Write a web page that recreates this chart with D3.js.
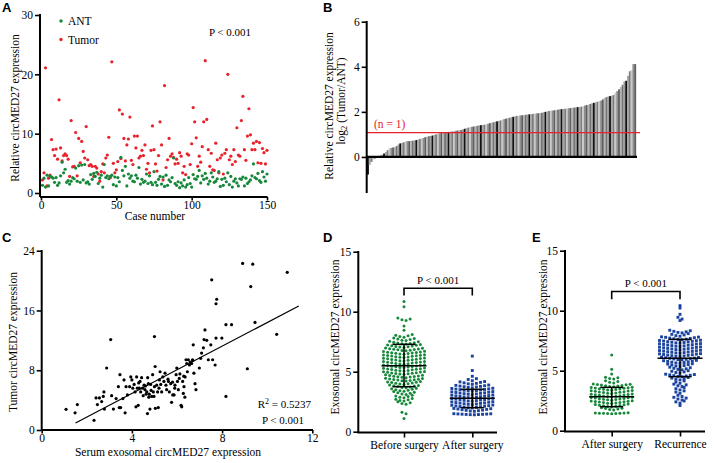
<!DOCTYPE html>
<html><head><meta charset="utf-8">
<script src="https://cdn.jsdelivr.net/npm/d3@7"></script>
<style>body{margin:0;background:#fff}svg{display:block}</style>
</head><body><svg id="c" width="727" height="463"></svg>
<script>
// ---------- Panel A ----------
const antValues = [
1.3,2.5,1.0,3.0,1.2,2.8,2.7,2.5,1.8,2.6,
1.3,1.7,2.9,5.2,3.4,4.0,1.8,2.1,1.5,2.0,
2.6,2.4,4.2,2.0,4.6,1.8,4.7,2.2,4.8,1.7,
1.9,1.5,3.1,2.3,3.3,2.8,3.5,1.6,2.5,3.0,
1.0,4.8,2.6,2.9,2.4,2.8,3.0,1.4,2.7,1.2,
2.6,1.9,6.0,3.8,2.9,4.5,1.2,3.2,2.5,2.9,
2.0,1.9,3.0,2.5,4.3,1.5,2.3,1.8,2.0,3.2,
1.6,2.9,1.8,1.4,3.6,1.8,1.3,2.3,2.8,1.5,
2.7,1.1,3.0,1.3,2.2,1.9,2.6,5.9,1.6,1.3,
1.9,0.9,1.7,1.2,2.2,1.0,1.4,2.6,1.6,1.0,
3.1,2.4,2.3,2.8,3.8,1.7,2.9,2.3,3.3,2.5,
1.5,2.0,3.4,2.7,1.8,2.0,2.4,3.6,1.1,2.3,
1.3,2.5,1.9,3.4,1.4,2.8,1.0,2.0,2.4,1.7,
1.2,2.4,2.3,2.7,1.2,2.5,1.6,1.9,2.2,2.9,
4.9,2.6,2.4,3.3,2.1,1.8,3.6,2.7,2.0,3.2];
const tumorValues = [
2.2,3.4,21.1,1.2,2.5,3.0,9.0,7.3,6.3,7.4,
5.7,15.7,7.6,5.4,6.3,6.6,6.3,5.7,2.8,12.2,
4.4,4.5,10.2,2.9,9.2,5.1,8.7,7.0,5.9,11.2,
5.6,4.6,4.8,4.5,2.8,4.5,4.2,3.2,2.0,3.6,
4.9,3.4,5.9,6.4,9.4,2.6,22.1,5.0,3.4,3.9,
5.3,14.0,5.8,13.3,9.2,5.4,8.1,9.1,12.8,5.5,
4.8,9.6,7.6,9.6,5.9,6.2,7.2,6.3,8.1,4.0,
5.0,3.4,7.2,11.3,7.3,4.9,3.7,6.3,12.0,8.1,
2.2,18.1,4.3,5.6,9.2,6.2,6.6,6.0,4.9,5.7,
5.0,6.8,6.2,3.4,4.5,3.1,6.6,6.4,4.8,8.3,
14.4,12.0,9.3,4.5,6.2,5.2,7.8,12.0,22.3,12.4,
7.3,4.5,6.7,3.9,3.8,8.4,5.6,3.4,5.9,6.4,
3.2,6.7,7.3,20.0,5.6,6.2,4.8,7.3,5.3,11.0,
6.4,6.2,12.2,16.3,7.3,5.5,9.6,14.2,9.8,7.3,
8.4,7.3,8.7,5.1,8.5,5.0,7.5,6.8,4.9,7.2];
const aXTicks = [0,50,100,150];
const aYTicks = [0,10,20,30];
const aLegend = ["ANT","Tumor"];

// ---------- Panel B ----------
const log2Ratio = [
-0.78,-0.35,-0.22,-0.12,-0.08,-0.04,0.02,0.06,0.1,0.15,
0.22,0.3,0.38,0.4,0.42,0.44,0.48,0.55,0.6,0.62,
0.65,0.68,0.7,0.7,0.71,0.72,0.73,0.75,0.77,0.8,
0.82,0.84,0.88,0.9,0.92,0.93,0.95,0.98,1.0,1.02,
1.05,1.07,1.08,1.1,1.1,1.11,1.12,1.13,1.15,1.16,
1.17,1.18,1.2,1.22,1.25,1.28,1.3,1.32,1.34,1.35,
1.36,1.38,1.4,1.41,1.42,1.43,1.45,1.47,1.5,1.52,
1.54,1.56,1.58,1.6,1.62,1.65,1.68,1.7,1.72,1.74,
1.76,1.78,1.8,1.82,1.83,1.84,1.85,1.86,1.87,1.88,
1.89,1.9,1.91,1.92,1.93,1.94,1.95,1.96,1.98,2.0,
2.02,2.04,2.05,2.06,2.07,2.08,2.1,2.11,2.12,2.13,
2.14,2.15,2.16,2.17,2.18,2.19,2.2,2.21,2.22,2.23,
2.25,2.28,2.3,2.32,2.35,2.38,2.4,2.42,2.45,2.48,
2.5,2.55,2.62,2.65,2.68,2.7,2.72,2.75,2.85,2.92,
3.0,3.1,3.2,3.35,3.38,3.6,3.8,3.85,4.12,4.12];
const bYTicks = [0,2,4,6];
const cutoff = [1.08];
const barShades = ["#111111","#a8a8a8","#7c7c7c","#c9c9c9","#8e8e8e","#5f5f5f","#b6b6b6","#747474","#9b9b9b"];

// ---------- Panel C ----------
const serumX = [
1.08,1.48,1.58,2.32,2.41,2.56,2.47,2.66,2.73,2.76,
2.78,2.88,3.06,3.18,3.3,3.4,3.44,3.47,3.5,3.65,
3.7,3.74,3.8,3.9,3.95,4.0,4.04,4.1,4.14,4.18,
4.21,4.24,4.28,4.33,4.36,4.39,4.43,4.47,4.54,4.58,
4.63,4.66,4.69,4.73,4.77,4.8,4.83,4.88,4.92,4.95,
4.98,5.0,5.03,5.04,5.1,5.14,5.17,5.22,5.25,5.28,
5.32,5.37,5.42,5.47,5.51,5.54,5.62,5.66,5.72,5.76,
5.81,5.87,5.91,5.96,5.99,6.02,6.06,6.1,6.13,6.18,
6.21,6.25,6.28,6.31,6.36,6.4,6.43,6.46,6.5,6.55,
6.58,6.65,6.69,6.72,6.75,6.8,6.84,6.99,7.05,7.09,
7.17,7.2,7.24,7.32,7.39,7.5,7.54,7.58,7.69,7.73,
7.73,7.76,7.99,8.17,8.17,8.42,8.91,9.12,9.27,9.36,
9.46,10.42,10.89,4.5,4.6,5.2,5.6,5.9,4.85,3.6,
4.7,6.6,6.7,6.3,5.8,4.3,5.0,4.75,6.35,3.1];
const tumorY = [
2.77,2.3,3.4,1.3,4.3,4.3,3.4,3.8,4.5,5.1,
2.8,8.3,12.1,2.8,4.2,5.8,3.0,7.4,3.0,6.7,
2.3,5.8,4.7,5.8,7.1,6.7,5.6,6.1,5.1,3.1,
7.1,5.6,3.3,5.6,6.5,5.1,7.0,5.6,6.0,5.4,
4.8,5.1,2.2,6.2,4.8,2.8,6.1,4.5,7.4,5.1,
4.5,12.5,8.5,2.9,6.0,5.1,3.0,6.7,7.8,6.1,
5.1,7.1,6.5,7.6,6.0,5.4,6.5,5.1,6.2,3.7,
4.7,4.7,6.0,7.4,8.3,6.5,5.4,6.9,7.5,3.3,
3.1,6.5,4.9,5.8,7.1,9.4,8.9,7.8,9.4,8.7,
9.1,8.9,9.4,11.4,7.6,6.2,5.4,8.3,9.6,10.3,
11.0,12.1,13.4,12.0,9.4,11.4,20.1,9.4,8.7,12.3,
16.9,17.5,12.3,4.5,14.1,14.1,22.3,8.2,19.2,22.2,
14.4,12.8,21.1,4.6,5.9,5.6,6.8,5.6,5.3,4.2,
7.0,9.0,9.3,7.2,6.4,6.3,5.8,4.4,4.4,4.6];
const fitX = [1.5, 11.4];
const fitY = [0.93, 16.6];
const cXTicks = [0,4,8,12];
const cYTicks = [0,8,16,24];

// ---------- Panel D ----------
const dCategories = ["Before surgery","After surgery"];
const dBefore = [
10.85,10.42,9.27,9.33,9.4,9.47,8.8,8.45,
7.88,7.94,7.99,8.04,8.1,
7.59,7.63,7.68,7.72,7.77,7.81,
7.3,7.33,7.36,7.39,7.42,7.46,7.5,7.53,
7.02,7.05,7.08,7.11,7.14,7.17,7.2,7.23,7.26,
6.74,6.77,6.79,6.82,6.85,6.87,6.9,6.92,6.95,6.98,
6.46,6.48,6.51,6.53,6.56,6.58,6.6,6.63,6.65,6.68,6.7,
6.18,6.2,6.23,6.25,6.28,6.3,6.32,6.35,6.37,6.4,6.42,
5.9,5.92,5.95,5.97,6.0,6.02,6.04,6.07,6.09,6.12,6.14,
5.62,5.64,5.67,5.69,5.72,5.74,5.76,5.79,5.81,5.84,5.86,
5.34,5.36,5.39,5.41,5.44,5.46,5.48,5.51,5.53,5.56,5.58,
5.06,5.08,5.11,5.13,5.16,5.18,5.2,5.23,5.25,5.28,5.3,
4.78,4.8,4.83,4.85,4.88,4.9,4.92,4.95,4.97,5.0,5.02,
4.5,4.53,4.55,4.58,4.6,4.63,4.65,4.68,4.71,4.74,
4.22,4.25,4.27,4.3,4.32,4.35,4.38,4.4,4.43,4.46,
3.94,3.97,4.0,4.03,4.06,4.09,4.12,4.15,4.18,
3.66,3.69,3.73,3.76,3.8,3.83,3.86,3.9,
3.38,3.42,3.46,3.5,3.54,3.58,3.62,
3.1,3.15,3.2,3.25,3.29,3.34,
2.83,2.88,2.93,2.98,3.03,
2.55,2.6,2.66,2.71,2.77,
2.28,2.35,2.42,2.49,
1.5,1.62,1.1];
const dAfter = [
6.3,5.1,4.62,4.25,4.35,4.42,
3.95,3.99,4.03,4.07,4.11,4.15,4.18,
3.66,3.69,3.72,3.75,3.78,3.8,3.83,3.86,3.89,
3.38,3.4,3.43,3.45,3.48,3.5,3.52,3.55,3.57,3.6,3.62,
3.1,3.12,3.15,3.17,3.2,3.22,3.24,3.27,3.29,3.32,3.34,
2.82,2.84,2.87,2.89,2.92,2.94,2.96,2.99,3.01,3.04,3.06,
2.54,2.56,2.59,2.61,2.64,2.66,2.68,2.71,2.73,2.76,2.78,
2.26,2.28,2.31,2.33,2.36,2.38,2.4,2.43,2.45,2.48,2.5,
1.98,2.0,2.03,2.05,2.08,2.1,2.12,2.15,2.17,2.2,2.22,
1.7,1.72,1.75,1.78,1.8,1.83,1.86,1.89,1.92,1.94,
1.41,1.42,1.43,1.44,1.45,1.46,1.47,1.48,1.49,1.5];
const dMean = [5.5, 2.78];
const dSdLow = [3.75, 2.0];
const dSdHigh = [7.28, 3.53];

// ---------- Panel E ----------
const eCategories = ["After surgery","Recurrence"];
const eAfter = [
6.3,5.12,4.72,
4.3,4.36,4.41,4.45,
3.97,4.04,4.1,4.16,
3.66,3.69,3.72,3.74,3.77,3.8,3.83,3.85,3.88,3.9,
3.38,3.4,3.43,3.45,3.48,3.5,3.53,3.55,3.58,3.6,3.62,
3.1,3.12,3.15,3.18,3.2,3.23,3.25,3.28,3.3,3.32,3.34,
2.82,2.85,2.87,2.9,2.92,2.95,2.97,3.0,3.02,3.04,3.06,
2.54,2.57,2.59,2.62,2.64,2.67,2.69,2.72,2.74,2.76,2.78,
2.26,2.29,2.31,2.34,2.36,2.39,2.41,2.44,2.46,2.48,2.5,
1.98,2.01,2.04,2.07,2.1,2.13,2.16,2.19,2.22,
1.72,1.76,1.8,1.84,1.88,1.92,
1.42,1.43,1.44,1.45,1.45,1.46,1.47,1.48,1.5];
const eRecurrence = [
10.42,10.22,9.7,9.3,9.45,9.18,
8.15,8.19,8.24,8.28,8.33,8.37,
7.87,7.92,7.98,8.03,8.09,
7.58,7.61,7.63,7.66,7.69,7.72,7.75,7.78,7.8,7.82,
7.3,7.32,7.35,7.37,7.4,7.42,7.45,7.47,7.5,7.52,7.54,
7.02,7.04,7.07,7.09,7.12,7.14,7.17,7.19,7.22,7.24,7.26,
6.74,6.76,6.79,6.81,6.84,6.86,6.89,6.91,6.94,6.96,6.98,
6.46,6.48,6.51,6.53,6.56,6.58,6.61,6.63,6.66,6.68,6.7,
6.18,6.2,6.23,6.25,6.28,6.3,6.33,6.35,6.38,6.4,6.42,
5.9,5.93,5.95,5.98,6.0,6.03,6.05,6.08,6.1,6.13,
5.62,5.65,5.68,5.71,5.74,5.77,5.8,5.83,5.86,
5.35,5.39,5.43,5.47,5.51,5.55,5.58,
5.07,5.11,5.16,5.2,5.25,5.29,
4.8,4.85,4.9,4.95,5.0,
4.5,4.53,4.56,4.59,4.62,4.65,4.68,4.71,
4.23,4.28,4.33,4.38,4.43,
3.95,4.05,4.15,
3.68,3.75,3.82,3.88,
3.4,3.5,3.6,
3.12,3.22,3.32,
2.85,2.95,
2.56,2.64,2.72,2.78,
2.3,2.4,2.48,
2.1];
const eMean = [2.83, 6.03];
const eSdLow = [2.0, 4.5];
const eSdHigh = [3.61, 7.61];
const swarmYTicks = [0,5,10,15];
const pText = "P < 0.001";

// ---------- drawing ----------
const SERIF = "'Liberation Serif','Times New Roman',serif";
const SANS = "'Liberation Sans',Arial,sans-serif";
const FS = 11.5;
const GREEN = "#16883a", RED = "#e8222a", BLUE = "#1a43a0";
const svg = d3.select("#c");

function txt(x, y, s, opts = {}) {
  const t = svg.append("text").attr("x", x).attr("y", y).text(s)
    .attr("font-family", opts.family || SERIF).attr("font-size", opts.size || FS)
    .attr("fill", opts.fill || "#000").attr("text-anchor", opts.anchor || "start");
  if (opts.weight) t.attr("font-weight", opts.weight);
  return t;
}
function vtxt(cx, cy, s, size) {
  return svg.append("text").attr("transform", `translate(${cx},${cy}) rotate(-90)`)
    .attr("text-anchor", "middle").attr("dominant-baseline", "central")
    .attr("font-family", SERIF).attr("font-size", size || FS).text(s);
}
function styleAxis(g) {
  g.select(".domain").remove();
  g.selectAll(".tick line").attr("stroke", "#000").attr("stroke-width", 1.6);
  g.selectAll(".tick text").attr("font-family", SERIF).attr("font-size", FS).attr("fill", "#000");
}
function leftAxis(scale, x, ticks, y0, y1) {
  const g = svg.append("g").attr("transform", `translate(${x},0)`)
    .call(d3.axisLeft(scale).tickValues(ticks).tickSize(5).tickSizeOuter(0).tickPadding(2));
  styleAxis(g);
  svg.append("line").attr("x1", x).attr("x2", x).attr("y1", y0).attr("y2", y1)
    .attr("stroke", "#000").attr("stroke-width", 2);
}
function bottomAxis(scale, y, ticks, x0, x1, size, pad) {
  const ax = d3.axisBottom(scale).tickSize(size).tickSizeOuter(0).tickPadding(pad);
  if (ticks) ax.tickValues(ticks);
  const g = svg.append("g").attr("transform", `translate(0,${y})`).call(ax);
  styleAxis(g);
  svg.append("line").attr("x1", x0).attr("x2", x1).attr("y1", y).attr("y2", y)
    .attr("stroke", "#000").attr("stroke-width", 2);
}

// Panel letters
[["A", 2, 12], ["B", 323, 12], ["C", 2, 242], ["D", 323, 242], ["E", 532, 242]].forEach(d =>
  txt(d[1], d[2], d[0], { family: SANS, size: 13, weight: "bold" }));

// ===== A =====
{
  const x = d3.scaleLinear().domain([0, 150]).range([41, 267]);
  const y = d3.scaleLinear().domain([0, 30]).range([193, 15]);
  svg.append("g").selectAll("circle").data(tumorValues).join("circle")
    .attr("cx", (d, i) => x(i + 1)).attr("cy", d => y(d)).attr("r", 1.6).attr("fill", RED);
  svg.append("g").selectAll("circle").data(antValues).join("circle")
    .attr("cx", (d, i) => x(i + 1)).attr("cy", d => y(d)).attr("r", 1.6).attr("fill", GREEN);
  leftAxis(y, 40, aYTicks, 14, 197);
  bottomAxis(x, 197, aXTicks, 40, 267.5, 3.5, 0);
  vtxt(15, 108, "Relative circMED27 expression");
  txt(155, 220, "Case number", { anchor: "middle" });
  const lc = [GREEN, RED];
  aLegend.forEach((s, i) => {
    svg.append("circle").attr("cx", 61).attr("cy", 21 + i * 18.5).attr("r", 1.7).attr("fill", lc[i]);
    txt(68, 25 + i * 18.5, s);
  });
  txt(230, 36, pText, { anchor: "middle", size: 11 });
}

// ===== B =====
{
  const x = d3.scaleBand().domain(d3.range(log2Ratio.length)).range([367, 636]).padding(0);
  const y = d3.scaleLinear().domain([-1.6, 6]).range([193, 21.7]);
  svg.append("g").selectAll("rect").data(log2Ratio).join("rect")
    .attr("x", (d, i) => x(i)).attr("width", x.bandwidth() + 0.15)
    .attr("y", d => Math.min(y(0), y(d))).attr("height", d => Math.abs(y(d) - y(0)))
    .attr("fill", (d, i) => barShades[i % barShades.length]);
  svg.append("line").attr("x1", 366).attr("x2", 637).attr("y1", y(0)).attr("y2", y(0))
    .attr("stroke", "#000").attr("stroke-width", 2.2);
  svg.append("line").attr("x1", 367).attr("x2", 640).attr("y1", y(cutoff[0])).attr("y2", y(cutoff[0]))
    .attr("stroke", RED).attr("stroke-width", 1.4);
  txt(374, 128, "(n = 1)", { fill: RED });
  leftAxis(y, 366.7, bYTicks, 21, 193);
  vtxt(328.5, 106, "Relative circMED27 expression");
  const t = svg.append("text").attr("transform", "translate(341,101) rotate(-90)")
    .attr("text-anchor", "middle").attr("dominant-baseline", "central")
    .attr("font-family", SERIF).attr("font-size", FS);
  t.append("tspan").text("log");
  t.append("tspan").attr("dy", 3).attr("font-size", 8.5).text("2");
  t.append("tspan").attr("dy", -3).text(" (Tumor/ANT)");
}

// ===== C =====
{
  const x = d3.scaleLinear().domain([0, 12]).range([41.7, 312.3]);
  const y = d3.scaleLinear().domain([0, 24]).range([430, 250.7]);
  svg.append("g").selectAll("circle").data(serumX).join("circle")
    .attr("cx", d => x(d)).attr("cy", (d, i) => y(tumorY[i])).attr("r", 1.6).attr("fill", "#000");
  svg.append("line").attr("x1", x(fitX[0])).attr("y1", y(fitY[0])).attr("x2", x(fitX[1])).attr("y2", y(fitY[1]))
    .attr("stroke", "#000").attr("stroke-width", 1.2);
  leftAxis(y, 41.7, cYTicks, 250, 430);
  bottomAxis(x, 430, cXTicks, 41.7, 313, 3.5, 0);
  vtxt(13, 342, "Tumor circMED27 expression");
  txt(168, 455.5, "Serum exosomal circMED27 expression", { anchor: "middle" });
  const r = txt(311, 408, "R", { anchor: "end", size: 11 });
  r.append("tspan").attr("dy", -4).attr("font-size", 8).text("2");
  r.append("tspan").attr("dy", 4).text(" = 0.5237");
  txt(283, 424, pText, { anchor: "middle", size: 11 });
}

// ===== swarm helper =====
function swarm(values, bin) {
  const groups = d3.group(values, v => Math.floor(v / bin + 1e-9));
  const out = [];
  for (const arr of groups.values()) {
    const s = arr.slice().sort((a, b) => a - b);
    const n = s.length;
    s.forEach((v, i) => {
      let off;
      if (n % 2 === 1) off = i === 0 ? 0 : Math.ceil(i / 2) * (i % 2 ? -1 : 1);
      else off = (Math.floor(i / 2) + 0.5) * (i % 2 ? -1 : 1);
      out.push({ v, off });
    });
  }
  return out;
}
function drawSwarm(values, cx, y, shape, color) {
  const pts = swarm(values, 0.28);
  const sp = 4.1;
  const g = svg.append("g");
  if (shape === "circle") {
    g.selectAll("circle").data(pts).join("circle")
      .attr("cx", d => cx + d.off * sp).attr("cy", d => y(d.v)).attr("r", 1.5).attr("fill", color);
  } else {
    g.selectAll("rect").data(pts).join("rect")
      .attr("x", d => cx + d.off * sp - 1.45).attr("y", d => y(d.v) - 1.45)
      .attr("width", 2.9).attr("height", 2.9).attr("fill", color);
  }
}
function errBar(cx, y, m, lo, hi) {
  const g = svg.append("g").attr("stroke", "#000").attr("stroke-width", 1.5);
  g.append("line").attr("x1", cx - 22.5).attr("x2", cx + 22.5).attr("y1", y(m)).attr("y2", y(m));
  g.append("line").attr("x1", cx).attr("x2", cx).attr("y1", y(lo)).attr("y2", y(hi));
  g.append("line").attr("x1", cx - 11.5).attr("x2", cx + 11.5).attr("y1", y(lo)).attr("y2", y(lo));
  g.append("line").attr("x1", cx - 11.5).attr("x2", cx + 11.5).attr("y1", y(hi)).attr("y2", y(hi));
}
function bracket(x1, x2, yTop, yLeg) {
  svg.append("path").attr("d", `M${x1},${yLeg}V${yTop}H${x2}V${yLeg}`)
    .attr("fill", "none").attr("stroke", "#000").attr("stroke-width", 1.6);
}

// ===== D =====
{
  const x = d3.scalePoint().domain(dCategories).range([404, 472.3]);
  const y = d3.scaleLinear().domain([0, 15]).range([431.7, 251.7]);
  drawSwarm(dBefore, x(dCategories[0]), y, "circle", GREEN);
  drawSwarm(dAfter, x(dCategories[1]), y, "square", BLUE);
  dCategories.forEach((c, i) => errBar(x(c), y, dMean[i], dSdLow[i], dSdHigh[i]));
  leftAxis(y, 358.3, swarmYTicks, 251, 432.5);
  bottomAxis(x, 432.5, null, 357.3, 497, 5, 3);
  vtxt(335, 337, "Exosomal circMED27 expression");
  bracket(x(dCategories[0]), x(dCategories[1]), y(11.95), y(11.35));
  txt((x(dCategories[0]) + x(dCategories[1])) / 2, y(12.3), pText, { anchor: "middle", size: 11 });
}

// ===== E =====
{
  const x = d3.scalePoint().domain(eCategories).range([611.7, 680]);
  const y = d3.scaleLinear().domain([0, 15]).range([430.7, 250.7]);
  drawSwarm(eAfter, x(eCategories[0]), y, "circle", GREEN);
  drawSwarm(eRecurrence, x(eCategories[1]), y, "square", BLUE);
  eCategories.forEach((c, i) => errBar(x(c), y, eMean[i], eSdLow[i], eSdHigh[i]));
  leftAxis(y, 565, swarmYTicks, 250, 431.5);
  bottomAxis(x, 431.5, null, 564, 705, 5, 3);
  vtxt(543, 337, "Exosomal circMED27 expression");
  bracket(x(eCategories[0]), x(eCategories[1]), y(11.6), y(10.95));
  txt((x(eCategories[0]) + x(eCategories[1])) / 2, y(11.95), pText, { anchor: "middle", size: 11 });
}
</script></body></html>
